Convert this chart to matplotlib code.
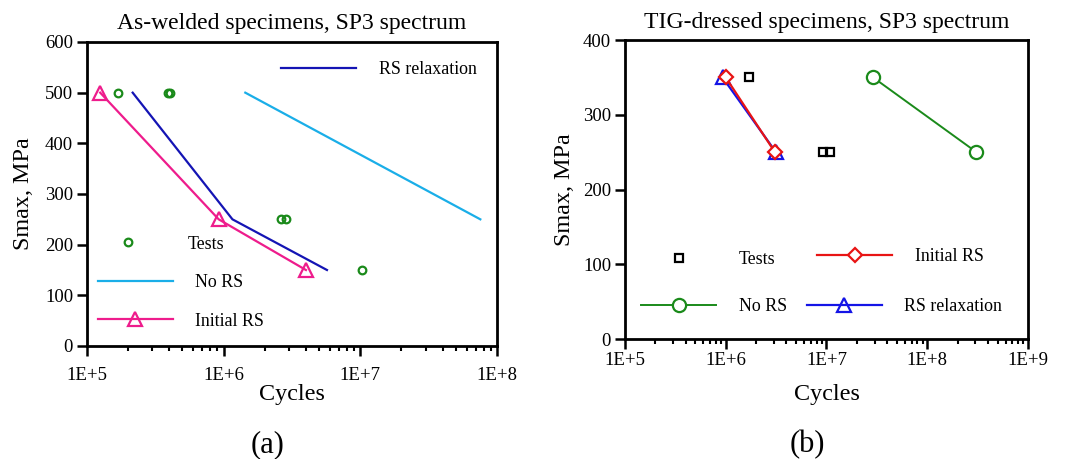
import matplotlib
matplotlib.use("Agg")
import matplotlib.pyplot as plt
from matplotlib.lines import Line2D
from matplotlib.legend import Legend
from matplotlib.ticker import LogLocator, FixedLocator, NullFormatter
import numpy as np

plt.rcParams['font.family'] = ['Liberation Serif', 'DejaVu Serif']

# ---- (a) As-welded specimens ----
a_tests_n = [1.69e5, 3.92e5, 4.07e5, 2.64e6, 2.88e6, 1.03e7]
a_tests_s = [500, 500, 500, 250, 250, 150]
a_nors_n = [1.44e6, 7.55e7]
a_nors_s = [500, 250]
a_init_n = [1.25e5, 9.2e5, 4.0e6]
a_init_s = [500, 250, 150]
a_relax_n = [2.16e5, 1.16e6, 5.7e6]
a_relax_s = [500, 250, 150]

# ---- (b) TIG-dressed specimens ----
b_tests_n = [1.7e6, 9.3e6, 1.08e7]
b_tests_s = [350, 250, 250]
b_nors_n = [2.9e7, 3.08e8]
b_nors_s = [350, 250]
b_init_n = [1.0e6, 3.08e6]
b_init_s = [350, 250]
b_relax_n = [9.3e5, 3.15e6]
b_relax_s = [350, 250]

GREEN = '#1a8a1a'
CYAN = '#1aaee8'
NAVY = '#1414b4'
PINK = '#ee1c8c'
RED = '#e81414'
BLUE = '#1414e6'

fig = plt.figure(figsize=(10.67, 4.59), dpi=100)
ax1 = fig.add_axes([0.0815, 0.2462, 0.3843, 0.6623])
ax2 = fig.add_axes([0.5857, 0.2614, 0.3777, 0.6514])

LEG_FS = 12.9


def one_entry(ax, handle, label, x, y):
    # single legend entry placed freely, like the original plot
    leg = Legend(ax, [handle], [label], loc='center left', bbox_to_anchor=(x, y),
                 frameon=False, borderpad=0, borderaxespad=0,
                 handlelength=4.2, handletextpad=1.25, fontsize=LEG_FS)
    ax.add_artist(leg)


def style(ax, xmax, ymax, ystep, title, xpad, xlpad, ylpad):
    ax.set_xscale('log')
    ax.set_xlim(1e5, xmax)
    ax.set_ylim(0, ymax)
    ax.yaxis.set_major_locator(FixedLocator(np.arange(0, ymax + 1, ystep)))
    ax.xaxis.set_minor_locator(LogLocator(base=10, subs=np.arange(2, 10), numticks=20))
    ax.xaxis.set_minor_formatter(NullFormatter())
    decs = np.arange(5, int(round(np.log10(xmax))) + 1)
    ax.set_xticks([10.0 ** d for d in decs])
    ax.set_xticklabels(['1E+%d' % d for d in decs])
    for s in ax.spines.values():
        s.set_linewidth(2.0)
    ax.tick_params(axis='both', which='major', direction='out', length=7, width=1.8,
                   labelsize=13.5, pad=3)
    ax.tick_params(axis='x', which='major', pad=xpad)
    ax.tick_params(axis='x', which='minor', direction='out', length=3.5, width=1.5)
    ax.tick_params(axis='y', which='minor', left=False)
    ax.set_xlabel('Cycles', fontsize=17.4, labelpad=xlpad)
    ax.set_ylabel('Smax, MPa', fontsize=17.4, labelpad=ylpad)
    ax.set_title(title, fontsize=17, pad=9)


# panel (a)
ax1.plot(a_nors_n, a_nors_s, color=CYAN, lw=1.6)
ax1.plot(a_relax_n, a_relax_s, color=NAVY, lw=1.6)
ax1.plot(a_init_n, a_init_s, color=PINK, lw=1.6, marker='^', ms=10,
         mfc='none', mec=PINK, mew=1.6)
ax1.plot(a_tests_n, a_tests_s, ls='none', marker='o', ms=5.5, mfc='none',
         mec=GREEN, mew=1.6)
style(ax1, 1e8, 600, 100, 'As-welded specimens, SP3 spectrum', 8, 0, 8)

one_entry(ax1, Line2D([], [], color=NAVY, lw=1.6), 'RS relaxation', 0.473, 0.910)
one_entry(ax1, Line2D([], [], ls='none', marker='o', ms=5.5, mfc='none', mec=GREEN, mew=1.6),
          'Tests', 0.008, 0.335)
one_entry(ax1, Line2D([], [], color=CYAN, lw=1.6), 'No RS', 0.026, 0.208)
one_entry(ax1, Line2D([], [], color=PINK, lw=1.6, marker='^', ms=10, mfc='none',
                      mec=PINK, mew=1.6), 'Initial RS', 0.026, 0.082)

# panel (b)
ax2.plot(b_nors_n, b_nors_s, color=GREEN, lw=1.4, marker='o', ms=9.5,
         mfc='white', mec=GREEN, mew=1.6)
ax2.plot(b_relax_n, b_relax_s, color=BLUE, lw=1.6, marker='^', ms=10,
         mfc='none', mec=BLUE, mew=1.6)
ax2.plot(b_init_n, b_init_s, color=RED, lw=1.6, marker='D', ms=7.5,
         mfc='white', mec=RED, mew=1.6)
ax2.plot(b_tests_n, b_tests_s, ls='none', marker='s', ms=6, mfc='none',
         mec='black', mew=1.6)
style(ax2, 1e9, 400, 100, 'TIG-dressed specimens, SP3 spectrum', 2.5, 11, 6)

one_entry(ax2, Line2D([], [], ls='none', marker='s', ms=6, mfc='none', mec='black', mew=1.6),
          'Tests', 0.040, 0.265)
one_entry(ax2, Line2D([], [], color=RED, lw=1.6, marker='D', ms=7.5, mfc='white',
                      mec=RED, mew=1.6), 'Initial RS', 0.477, 0.275)
one_entry(ax2, Line2D([], [], color=GREEN, lw=1.4, marker='o', ms=9.5, mfc='white',
                      mec=GREEN, mew=1.6), 'No RS', 0.040, 0.108)
one_entry(ax2, Line2D([], [], color=BLUE, lw=1.6, marker='^', ms=10, mfc='none',
                      mec=BLUE, mew=1.6), 'RS relaxation', 0.451, 0.108)

fig.text(0.251, 0.032, '(a)', fontsize=22, ha='center', va='center')
fig.text(0.757, 0.032, '(b)', fontsize=22, ha='center', va='center')

fig.savefig('out.png', dpi=100)
